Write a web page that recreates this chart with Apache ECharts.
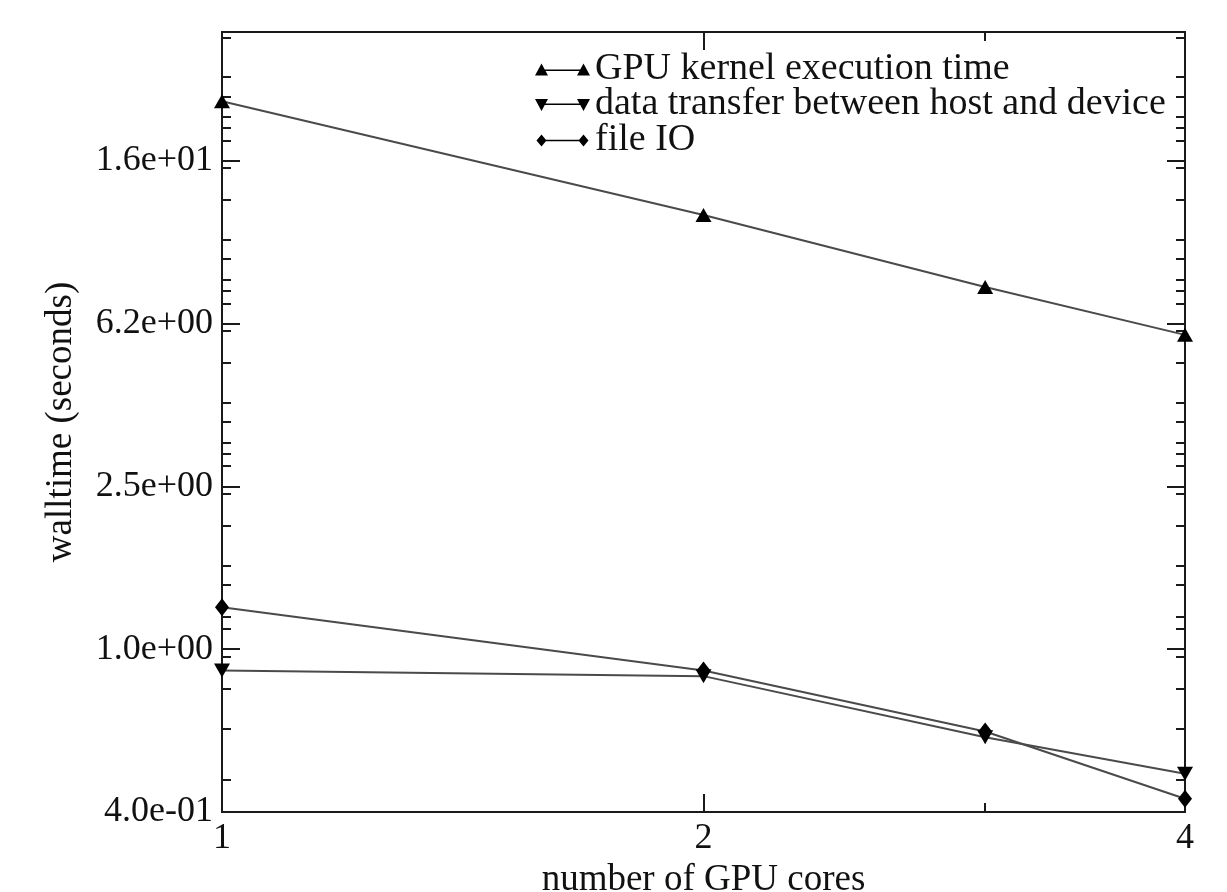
<!DOCTYPE html>
<html><head><meta charset="utf-8">
<script src="https://cdn.jsdelivr.net/npm/echarts@6/dist/echarts.min.js"></script>
<style>html,body{margin:0;padding:0;background:#fff}#c{width:1227px;height:892px}</style>
</head><body><div id="c"></div>
<script>
// ---- data ----
const cores = [1, 2, 3, 4];
const gpuKernel = [21.8, 11.5, 7.67, 5.86];
const dataTransfer = [0.887, 0.859, 0.609, 0.496];
const fileIO = [1.265, 0.887, 0.629, 0.431];
const seriesNames = ['GPU kernel execution time', 'data transfer between host and device', 'file IO'];
const xMajorTicks = [1, 2, 4];
const xMajorLabels = ['1', '2', '4'];
const xMinorTicks = [3];
const yMajorTicks = [0.4, 1, 2.5, 6.25, 15.625];
const yMajorLabels = ['4.0e-01', '1.0e+00', '2.5e+00', '6.2e+00', '1.6e+01'];
const yMinorTicks = [0.48, 0.64, 0.8, 0.96, 1.12, 1.2, 1.44, 1.6, 2.0, 2.4, 2.8, 3.0, 3.2, 3.6, 4.0, 5.0, 6.0, 7.0, 7.5, 8.0, 9.0, 10.0, 12.5, 15.0, 17.5, 18.75, 20.0, 22.4, 25.0, 31.25];
const xTitle = 'number of GPU cores';
const yTitle = 'walltime (seconds)';

// ---- chart ----
const FONT = '"Liberation Serif", "Times New Roman", serif';
const X_MIN = 1, X_MAX = 4, Y_MIN = 0.4, Y_MAX = 32.2;
const AX = '#1a1a1a';

function pick(v, vals, labels) {
  for (let i = 0; i < vals.length; i++) {
    if (Math.abs(Math.log(v / vals[i])) < 1e-4) return labels[i];
  }
  return '';
}

function xAxisDef(position, ticks, len, withLabels, extra) {
  return Object.assign({
    type: 'log', logBase: 2, min: X_MIN, max: X_MAX, position: position,
    axisLine: { show: true, lineStyle: { color: AX, width: 2 } },
    axisTick: { show: true, inside: true, length: len, customValues: ticks, lineStyle: { color: AX, width: 2 } },
    axisLabel: withLabels ? {
      show: true, customValues: xMajorTicks, margin: 9,
      fontFamily: FONT, fontSize: 36, color: '#111',
      formatter: v => pick(v, xMajorTicks, xMajorLabels)
    } : { show: false },
    splitLine: { show: false }, minorTick: { show: false }
  }, extra || {});
}

function yAxisDef(position, ticks, len, withLabels, extra) {
  return Object.assign({
    type: 'log', logBase: 2.5, min: Y_MIN, max: Y_MAX, position: position,
    axisLine: { show: true, lineStyle: { color: AX, width: 2 } },
    axisTick: { show: true, inside: true, length: len, customValues: ticks, lineStyle: { color: AX, width: 2 } },
    axisLabel: withLabels ? {
      show: true, customValues: yMajorTicks, margin: 9,
      fontFamily: FONT, fontSize: 36, color: '#111',
      formatter: v => pick(v, yMajorTicks, yMajorLabels)
    } : { show: false },
    splitLine: { show: false }, minorTick: { show: false }
  }, extra || {});
}

const chart = echarts.init(document.getElementById('c'), null, { renderer: 'canvas' });

const icoUp = 'path://M0,13 L6.5,1 L13,13 Z M6.5,7 L48.5,7 L48.5,8.4 L6.5,8.4 Z M42,13 L48.5,1 L55,13 Z M0,0 L0.01,0 Z';
const icoDown = 'path://M0,1 L13,1 L6.5,13 Z M6.5,5.6 L48.5,5.6 L48.5,7 L6.5,7 Z M42,1 L55,1 L48.5,13 Z M0,0 L0.01,0 Z';
const icoDia = 'path://M1.5,7 L6.5,1 L11.5,7 L6.5,13 Z M6.5,6.3 L48.5,6.3 L48.5,7.7 L6.5,7.7 Z M43.5,7 L48.5,1 L53.5,7 L48.5,13 Z M0,0 L0.01,0 Z M55,0 L55.01,0 Z';

const option = {
  backgroundColor: '#ffffff',
  animation: false,
  textStyle: { fontFamily: FONT },
  grid: { left: 222, right: 42, top: 32, bottom: 80, containLabel: false, outerBoundsMode: 'none' },
  legend: {
    orient: 'vertical', left: 535, top: 50, padding: 0, itemGap: -2.5,
    itemWidth: 55, itemHeight: 13,
    textStyle: { fontFamily: FONT, fontSize: 38, color: '#111', lineHeight: 30 },
    data: [
      { name: seriesNames[0], icon: icoUp },
      { name: seriesNames[1], icon: icoDown },
      { name: seriesNames[2], icon: icoDia }
    ],
    selectedMode: false
  },
  xAxis: [
    xAxisDef('bottom', xMajorTicks, 18, true, {
      name: xTitle, nameLocation: 'middle', nameGap: 40,
      nameTextStyle: { fontFamily: FONT, fontSize: 37, color: '#111' }
    }),
    xAxisDef('bottom', xMinorTicks, 9, false),
    xAxisDef('top', xMajorTicks, 18, false),
    xAxisDef('top', xMinorTicks, 9, false)
  ],
  yAxis: [
    yAxisDef('left', yMajorTicks, 18, true, {
      name: yTitle, nameLocation: 'middle', nameGap: 142, nameRotate: 90,
      nameTextStyle: { fontFamily: FONT, fontSize: 37, color: '#111' }
    }),
    yAxisDef('left', yMinorTicks, 9, false),
    yAxisDef('right', yMajorTicks, 18, false),
    yAxisDef('right', yMinorTicks, 9, false)
  ],
  series: [
    {
      name: seriesNames[0], type: 'line', xAxisIndex: 0, yAxisIndex: 0, clip: false,
      data: cores.map((x, i) => [x, gpuKernel[i]]),
      symbol: 'triangle', symbolSize: [16, 14],
      itemStyle: { color: '#000' }, lineStyle: { color: '#4a4a4a', width: 2 }
    },
    {
      name: seriesNames[1], type: 'line', xAxisIndex: 0, yAxisIndex: 0, clip: false,
      data: cores.map((x, i) => [x, dataTransfer[i]]),
      symbol: 'triangle', symbolRotate: 180, symbolSize: [16, 14],
      itemStyle: { color: '#000' }, lineStyle: { color: '#4a4a4a', width: 2 }
    },
    {
      name: seriesNames[2], type: 'line', xAxisIndex: 0, yAxisIndex: 0, clip: false,
      data: cores.map((x, i) => [x, fileIO[i]]),
      symbol: 'diamond', symbolSize: [14, 18],
      itemStyle: { color: '#000' }, lineStyle: { color: '#4a4a4a', width: 2 }
    }
  ]
};
chart.setOption(option);
</script>
</body></html>
